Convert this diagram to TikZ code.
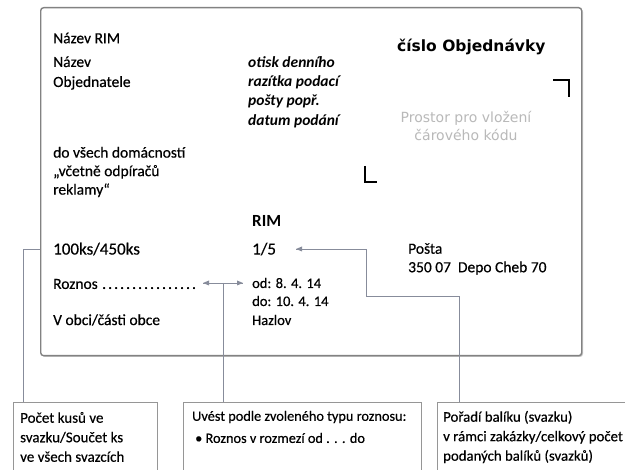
\documentclass[tikz,border=0pt]{standalone}
\usepackage{fontspec}
\setmainfont{Carlito}
\newfontfamily\bodyfont{Carlito}[FakeBold=0.4]
\newfontfamily\headfont{DejaVu Sans}
\newfontfamily\greyfont{DejaVu Sans}
\definecolor{cardgray}{RGB}{130,130,130}
\definecolor{shadowgray}{RGB}{200,200,200}
\definecolor{linkgray}{RGB}{135,140,155}
\definecolor{boxgray}{RGB}{150,150,150}
\definecolor{bargray}{RGB}{185,185,185}

\begin{document}
\begin{tikzpicture}[x=1pt,y=-1pt,
    txt/.style={anchor=west,align=left,font=\bodyfont\fontsize{15.5}{19}\selectfont},
    link/.style={draw=linkgray,line width=0.7pt},
    card/.style={draw=cardgray,line width=1.4pt,rounded corners=3pt,fill=white},
    notebox/.style={draw=boxgray,line width=0.8pt,anchor=north west,minimum height=90}]
    \tikzstyle{every node}+=[inner sep=0pt]
    \useasboundingbox (0,0) rectangle (625,470);
    \clip (0,0) rectangle (625,470);
    % obalka
    \fill [shadowgray, rounded corners=3pt] (42,9) rectangle (583,357);
    \node (card) [card, anchor=north west, minimum width=541, minimum height=348] at (40,7) {};
    \node (nazevrim) [txt] at (53,38) {Název RIM};
    \node (objednatel) [txt, font=\bodyfont\fontsize{15.5}{20}\selectfont] at (53,73) {Název\\Objednatele};
    \node (otisk) [txt, font=\fontsize{15.5}{19.3}\selectfont\bfseries\itshape] at (248,92) {otisk denního\\razítka podací\\pošty popř.\\datum podání};
    \node (cislo) [anchor=west, font=\headfont\fontsize{15.5}{18}\selectfont\bfseries] at (397,47) {číslo Objednávky};
    % znacky pro carovy kod
    \draw [black, line width=2pt] (553,80) -- (569,80) -- (569,97);
    \draw [black, line width=2pt] (365,166) -- (365,182) -- (377,182);
    \node (prostor) [align=center, text=bargray, font=\greyfont\fontsize{14}{18}\selectfont] at (466,126) {Prostor pro vložení\\čárového kódu};
    \node (domacnosti) [txt, font=\bodyfont\fontsize{15.5}{18.5}\selectfont] at (53,172) {do všech domácností\\„včetně odpíračů\\reklamy“};
    \node (rim) [txt, font=\fontsize{17}{19}\selectfont\bfseries] at (252,221) {RIM};
    \node (kusy) [txt, font=\bodyfont\fontsize{17}{19}\selectfont] at (53,249) {100ks/450ks};
    \node (poradi) [txt, font=\bodyfont\fontsize{17}{19}\selectfont] at (252,249) {1/5};
    \node (posta) [txt, font=\bodyfont\fontsize{15.5}{18.5}\selectfont] at (408,259) {Pošta\\350 07\ \ Depo Cheb 70};
    \node (roznos) [txt] at (53,284) {\makebox[147pt][l]{Roznos\leaders\hbox to 6pt{\hss.\hss}\hfill}};
    \node (termin) [txt, font=\bodyfont\fontsize{14.5}{18}\selectfont] at (252,292) {od: 8. 4. 14\\do: 10. 4. 14};
    \node (obec) [txt] at (53,320) {V obci/části obce};
    \node (hazlov) [txt, font=\bodyfont\fontsize{14.5}{18}\selectfont] at (252,320) {Hazlov};
    % vysvetlivky
    \node (boxkusy) [notebox, minimum width=144] at (13,402) {};
    \node (boxroznos) [notebox, minimum width=238] at (183,402) {};
    \node (boxporadi) [notebox, minimum width=200] at (437,402) {};
    \node (kusytext) [txt, font=\bodyfont\fontsize{15}{19.5}\selectfont] at (20,437) {Počet kusů ve\\svazku/Součet ks\\ve všech svazcích};
    \node (roznostext) [txt, font=\bodyfont\fontsize{14.3}{19.5}\selectfont] at (192,417) {Uvést podle zvoleného typu roznosu:};
    \node (roznosbullet) [txt, font=\bodyfont\fontsize{14.3}{19.5}\selectfont] at (195,438) {\textbullet\ Roznos v rozmezí od . . . do};
    \node (poraditext) [txt, font=\bodyfont\fontsize{14.8}{19.5}\selectfont] at (443,437) {Pořadí balíku (svazku)\\v rámci zakázky/celkový počet\\podaných balíků (svazků)};
    % spojnice
    \draw [link] (kusy.west -| card.west) -| ([xshift=10]boxkusy.north west);
    \coordinate (rozL) at (203,283);
    \coordinate (rozR) at (243,283);
    \coordinate (rozM) at (223,283);
    \draw [link] (rozL) -- (rozR);
    \fill [linkgray] (rozL) -- ++(6,-2.5) -- ++(0,5) -- cycle;
    \fill [linkgray] (rozR) -- ++(-6,-2.5) -- ++(0,5) -- cycle;
    \draw [link] (rozM) -- (rozM |- boxroznos.north);
    \coordinate (poradiarrow) at (296,249);
    \coordinate (bendA) at (366,249);
    \coordinate (bendB) at (459,296);
    \draw [link] (poradiarrow) -- (bendA) |- (bendB) -- (bendB |- boxporadi.north);
    \fill [linkgray] (poradiarrow) -- ++(6,-2.5) -- ++(0,5) -- cycle;
\end{tikzpicture}
\end{document}
